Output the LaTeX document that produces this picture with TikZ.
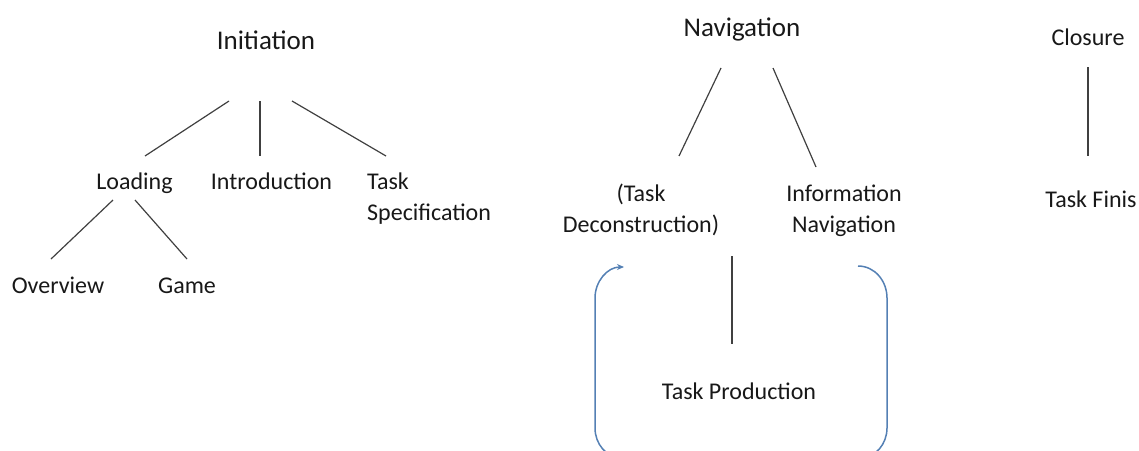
\documentclass[tikz,border=0pt]{standalone}
\usepackage{fontspec}
\setmainfont{Carlito}
\usetikzlibrary{arrows.meta}
\definecolor{linegray}{RGB}{64,64,64}
\definecolor{loopblue}{RGB}{84,128,180}
\definecolor{textblack}{RGB}{24,24,24}
\tikzset{
  x=1pt, y=-1pt,
  title/.style={inner sep=0pt, anchor=base, text=textblack, font=\fontsize{27}{32}\selectfont},
  label/.style={inner sep=0pt, anchor=base, text=textblack, font=\fontsize{24}{31}\selectfont},
  branch/.style={draw=linegray, line width=1.2pt},
  loop/.style={draw=loopblue, line width=1.5pt, -{Stealth[length=7pt,width=6pt]}}
}
\begin{document}
\begin{tikzpicture}
\useasboundingbox (0,0) rectangle (1139,450);

% Initiation branch (two-line nodes are placed by the baseline of their last line)
\node[title] (ini) at (266,49) {Initiation};
\node[label] (load) at (134.5,189) {Loading};
\node[label] (intro) at (271.5,189) {Introduction};
\node[label, anchor=base west, align=left] (spec) at (367,220) {Task\\Specification};
\node[label] (over) at (58,293) {Overview};
\node[label] (game) at (187,293) {Game};

\draw[branch] ([shift={(-37,52)}]ini.base) -- ([shift={(10.5,-33)}]load.base);
\draw[branch] ([shift={(-6,52)}]ini.base) -- ([shift={(-11.5,-33)}]intro.base);
\draw[branch] ([shift={(26,52)}]ini.base) -- ([shift={(19,-64)}]spec.base west);
\draw[branch] ([shift={(-21.5,11)}]load.base) -- ([shift={(-7,-34)}]over.base);
\draw[branch] ([shift={(0.5,11)}]load.base) -- ([shift={(0,-34)}]game.base);

% Navigation branch
\node[title] (nav) at (742,36) {Navigation};
\node[label, align=center] (dec) at (641,232) {(Task\\Deconstruction)};
\node[label, align=center] (info) at (844,232) {Information\\Navigation};
\node[label] (prod) at (739,399) {Task Production};

\draw[branch] ([shift={(-21,32)}]nav.base) -- ([shift={(38,-76)}]dec.base);
\draw[branch] ([shift={(31,32)}]nav.base) -- ([shift={(-28,-65)}]info.base);
\draw[branch] ([shift={(91,24)}]dec.base) -- ([shift={(-7,-55)}]prod.base);

% feedback loop around Task Production
\begin{scope}
  \clip (0,0) rectangle (1139,450);
  \draw[loop] ([shift={(14,34)}]info.base) to[out=0,in=90] (887,298) -- (887,428)
    to[out=-90,in=0] (860,458) -- (622,458) to[out=180,in=-90] (595,428) -- (595,298)
    to[out=90,in=180] ([shift={(-17,35)}]dec.base);
\end{scope}

% Closure branch
\node[label] (clos) at (1088,45) {Closure};
\node[label] (finis) at (1091,207) {Task Finis};
\draw[branch] ([shift={(0,22)}]clos.base) -- ([shift={(-3,-51)}]finis.base);
\end{tikzpicture}
\end{document}
